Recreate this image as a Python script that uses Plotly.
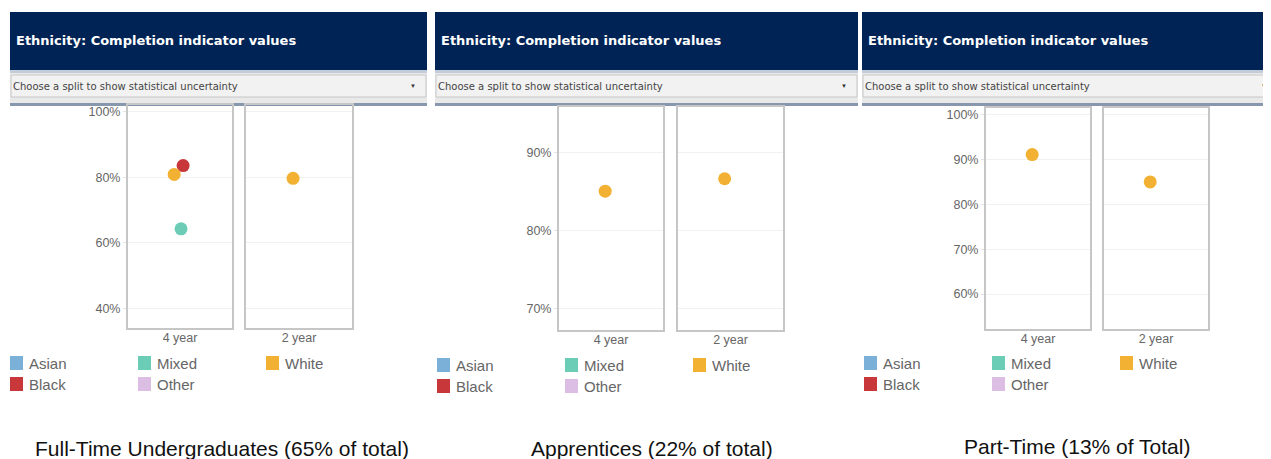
import plotly.graph_objects as go

# page body has an 8px margin: the figure starts at (8, 8) of the 1271x459 window
OFF = 8
W, H = 1271 - OFF, 459 - OFF

# ---------------- data ----------------
ETHNICITIES = ["Asian", "Black", "Mixed", "Other", "White"]
COLORS = ["#7BB0D9", "#C8383A", "#6CCDB7", "#DCBEE5", "#F2B132"]
DURATIONS = ["4 year", "2 year"]
PANEL_TITLES = ["Full-Time Undergraduates (65% of total)",
                "Apprentices (22% of total)",
                "Part-Time (13% of Total)"]
HEADER_TEXT = "Ethnicity: Completion indicator values"
DROPDOWN_TEXT = "Choose a split to show statistical uncertainty"

# completion % by ethnicity (order of ETHNICITIES), None = not shown
fulltime_4yr = [None, 83.6, 64.3, None, 80.9]
fulltime_2yr = [None, None, None, None, 79.7]
apprentice_4yr = [None, None, None, None, 85.0]
apprentice_2yr = [None, None, None, None, 86.6]
parttime_4yr = [None, None, None, None, 91.1]
parttime_2yr = [None, None, None, None, 85.0]

# ---------------- styling / layout ----------------
JITTER = [0.0, 0.03, 0.01, 0.0, -0.056]   # horizontal dot offset per ethnicity
NAVY = "#002355"
FONT = "Liberation Sans, Arial, sans-serif"
WIDE = "DejaVu Sans, Verdana, sans-serif"

panels = [
    dict(left=10, right=427, vals=[fulltime_4yr, fulltime_2yr],
         boxes=[(128, 232), (246, 352)], top=105, bottom=328,
         yrange=[34, 102.1], dtick=20, leg_x=10, leg_y=363, cap_x=222, cap_y=448),
    dict(left=435, right=858, vals=[apprentice_4yr, apprentice_2yr],
         boxes=[(559, 663), (678, 783)], top=107, bottom=330,
         yrange=[67.2, 95.8], dtick=10, leg_x=437, leg_y=365, cap_x=652, cap_y=448),
    dict(left=862, right=1290, vals=[parttime_4yr, parttime_2yr],
         boxes=[(986, 1090), (1104, 1208)], top=108, bottom=329,
         yrange=[52.2, 101.5], dtick=10, leg_x=864, leg_y=363, cap_x=1077, cap_y=446),
]


def px(x):
    return (x - OFF) / W


def py(y):
    return 1 - (y - OFF) / H


fig = go.Figure()
shapes, annotations = [], []
layout_axes = {}

n = 0
for pi, p in enumerate(panels):
    # header
    shapes.append(dict(type="rect", xref="paper", yref="paper", layer="below",
                       x0=px(p["left"]), x1=px(p["right"]), y0=py(70), y1=py(12),
                       fillcolor=NAVY, line=dict(width=0)))
    shapes.append(dict(type="rect", xref="paper", yref="paper", layer="below",
                       x0=px(p["left"]), x1=px(p["right"]), y0=py(73), y1=py(70),
                       fillcolor="#C3CCD8", line=dict(width=0)))
    shapes.append(dict(type="rect", xref="paper", yref="paper", layer="below",
                       x0=px(p["left"]), x1=px(p["right"]), y0=py(103), y1=py(73),
                       fillcolor="#E9E9E9", line=dict(width=0)))
    shapes.append(dict(type="rect", xref="paper", yref="paper", layer="below",
                       x0=px(p["left"] + 1), x1=px(p["right"] - 1), y0=py(97), y1=py(75),
                       fillcolor="#F2F2F2", line=dict(width=1, color="#C8C8C8")))
    shapes.append(dict(type="rect", xref="paper", yref="paper", layer="below",
                       x0=px(p["left"]), x1=px(p["right"]), y0=py(106), y1=py(103),
                       fillcolor="#8797AE", line=dict(width=0)))
    annotations.append(dict(text="<b>" + HEADER_TEXT + "</b>", xref="paper", yref="paper",
                            x=px(p["left"] + 4), y=py(41), xanchor="left", yanchor="middle",
                            showarrow=False, font=dict(family=WIDE, size=13, color="white")))
    annotations.append(dict(text=DROPDOWN_TEXT, xref="paper", yref="paper",
                            x=px(p["left"] + 1), y=py(86), xanchor="left", yanchor="middle",
                            showarrow=False, font=dict(family=WIDE, size=10, color="#444")))
    arrow_x = min(p["right"] - 14, 1264)
    annotations.append(dict(text="▼", xref="paper", yref="paper",
                            x=px(arrow_x), y=py(86), xanchor="center", yanchor="middle",
                            showarrow=False, font=dict(family=FONT, size=6, color="#333")))

    # subplots
    for k, (x0, x1) in enumerate(p["boxes"]):
        n += 1
        sfx = "" if n == 1 else str(n)
        xa, ya = "xaxis" + sfx, "yaxis" + sfx
        layout_axes[xa] = dict(domain=[px(x0), px(x1)], range=[-0.5, 0.5],
                               tickvals=[0], ticktext=[DURATIONS[k]],
                               showgrid=False, zeroline=False,
                               showline=True, mirror=True, linecolor="#C6C6C6", linewidth=2,
                               ticks="", fixedrange=True, ticklabelstandoff=-3,
                               tickfont=dict(family=FONT, size=12.5, color="#666"),
                               anchor="y" + sfx)
        layout_axes[ya] = dict(domain=[py(p["bottom"]), py(p["top"])], range=p["yrange"],
                               dtick=p["dtick"], ticksuffix="%",
                               showgrid=True, gridcolor="#F1F1F1", gridwidth=1,
                               zeroline=False, showline=True, mirror=True,
                               linecolor="#C6C6C6", linewidth=2,
                               showticklabels=(k == 0),
                               ticks="outside" if k == 0 else "", ticklen=3, tickcolor="#E4E4E4",
                               tickfont=dict(family=FONT, size=12.5, color="#666"),
                               anchor="x" + sfx)
        vals = p["vals"][k]
        for i, eth in enumerate(ETHNICITIES):
            if vals[i] is None:
                continue
            fig.add_trace(go.Scatter(x=[JITTER[i]], y=[vals[i]], mode="markers",
                                     name=eth, showlegend=False,
                                     marker=dict(size=13, color=COLORS[i]),
                                     xaxis="x" + sfx, yaxis="y" + sfx,
                                     hovertemplate=eth + ": %{y:.1f}%<extra></extra>"))

    # legend (3 columns x 2 rows, column-major)
    for i, eth in enumerate(ETHNICITIES):
        col, row = i // 2, i % 2
        lx = p["leg_x"] + col * 128
        ly = p["leg_y"] + row * 21
        shapes.append(dict(type="rect", xref="paper", yref="paper",
                           x0=px(lx), x1=px(lx + 13), y0=py(ly + 7), y1=py(ly - 7),
                           fillcolor=COLORS[i], line=dict(width=0)))
        annotations.append(dict(text=eth, xref="paper", yref="paper",
                                x=px(lx + 17), y=py(ly), xanchor="left", yanchor="middle",
                                showarrow=False, font=dict(family=FONT, size=15, color="#666")))

    # caption
    annotations.append(dict(text=PANEL_TITLES[pi], xref="paper", yref="paper",
                            x=px(p["cap_x"]), y=py(p["cap_y"]), xanchor="center",
                            yanchor="middle", showarrow=False,
                            font=dict(family=FONT, size=21, color="#111")))

fig.update_layout(width=W, height=H, margin=dict(l=0, r=0, t=0, b=0),
                  paper_bgcolor="white", plot_bgcolor="white",
                  shapes=shapes, annotations=annotations, showlegend=False,
                  **layout_axes)

fig.write_html("out.html")
